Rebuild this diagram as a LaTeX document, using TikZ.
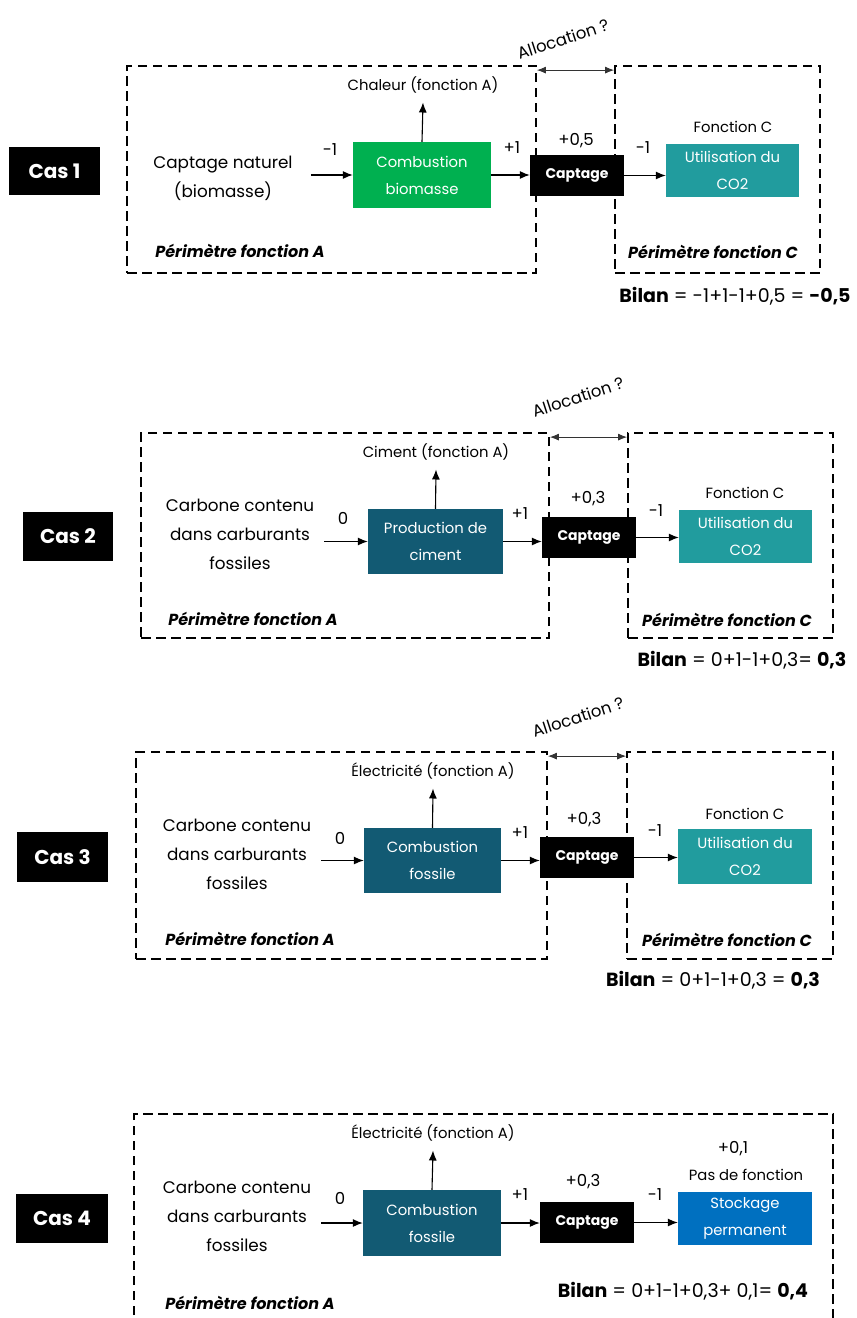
\documentclass[tikz,border=0pt]{standalone}
\usepackage{fontspec}
\setmainfont{Poppins}
\usetikzlibrary{arrows.meta}
\definecolor{cgreen}{HTML}{00B050}
\definecolor{cdark}{HTML}{125A73}
\definecolor{cteal}{HTML}{219C9E}
\definecolor{cblue}{HTML}{0070C0}
\newcommand{\fcas}{\fontsize{20}{24}\selectfont\bfseries}
\newcommand{\fmain}{\fontsize{16.8}{29}\selectfont}
\newcommand{\fbil}{\fontsize{19}{22}\selectfont}
\newcommand{\fsm}{\fontsize{14.8}{18}\selectfont}
\newcommand{\fnum}{\fontsize{16.5}{18}\selectfont}
\newcommand{\fbx}{\fontsize{14.8}{27}\selectfont}
\newcommand{\fcap}{\fontsize{14}{17}\selectfont\bfseries}
\newcommand{\fper}{\fontsize{16}{20}\selectfont\bfseries\itshape}
\begin{document}
\begin{tikzpicture}[x=1pt,y=-1pt,
  casbox/.style={fill=black,text=white,font=\fcas,inner sep=0,minimum width=91,minimum height=48},
  procbox/.style={text=white,align=center,inner sep=0,font=\fbx},
  capbox/.style={fill=black,text=white,font=\fcap,inner sep=0,minimum width=94,minimum height=41},
  perim/.style={draw,line width=1.8pt,dash pattern=on 9.5pt off 5.5pt,inner sep=0},
  flow/.style={-{Latex[length=10pt,width=8pt]},line width=1.1pt},
  alloc/.style={{Latex[length=9pt,width=7pt]}-{Latex[length=9pt,width=7pt]},line width=0.9pt,draw=black!80},
  lbl/.style={font=\fsm,inner sep=1pt},
  num/.style={font=\fnum,inner sep=1pt},
  txt/.style={font=\fmain,align=center,inner sep=0},
  biltxt/.style={font=\fbil,inner sep=0},
  pertxt/.style={font=\fper,inner sep=0},
  altxt/.style={font=\fnum,rotate=18,inner sep=0}
]
\useasboundingbox[fill=white] (0,0) rectangle (857,1318);

% ---------------- Cas 1 ----------------
\node[casbox] (cas1) at (54.5,171) {Cas 1};
\node[perim,minimum width=409,minimum height=207] (pA1) at (331.5,169.5) {};
\node[perim,minimum width=205,minimum height=207] (pC1) at (717.5,169.5) {};
\draw[alloc] ([yshift=-5pt]pA1.north east) -- ([yshift=-5pt]pC1.north west);
\node[altxt] (al1) at (563,39) {Allocation ?};
\node[lbl] (chal1) at (423,85) {Chaleur (fonction A)};
\node[txt,inner xsep=18pt] (nat1) at (223,178) {Captage naturel\\(biomasse)};
\node[procbox,fill=cgreen,minimum width=138,minimum height=66] (comb1) at (422,175) {Combustion\\biomasse};
\node[capbox] (cap1) at (577,175.5) {Captage};
\node[procbox,fill=cteal,minimum width=133,minimum height=53] (util1) at (732.5,170.5) {Utilisation du\\CO2};
\node[num] (v11) at (330,150) {-1};
\node[num] (v12) at (512,148) {+1};
\node[num] (v13) at (576,141) {+0,5};
\node[num] (v14) at (643,148) {-1};
\node[lbl] (fc1) at (733,127) {Fonction C};
\node[pertxt] (perA1) at (240,251) {Périmètre fonction A};
\node[pertxt] (perC1) at (713,252) {Périmètre fonction C};
\node[biltxt] (bil1) at (735,296) {\textbf{Bilan} = -1+1-1+0,5 = \textbf{-0,5}};
\draw[flow] (comb1.north) -- ([yshift=-8pt]chal1.south);
\draw[flow] (nat1.east |- comb1.west) -- (comb1.west);
\draw[flow] (comb1.east) -- (comb1.east -| cap1.west);
\draw[flow] (cap1.east) -- (cap1.east -| util1.west);

% ---------------- Cas 2 ----------------
\node[casbox,minimum width=90,minimum height=49] (cas2) at (68,536.5) {Cas 2};
\node[perim,minimum width=408,minimum height=205] (pA2) at (345,535.5) {};
\node[perim,minimum width=205,minimum height=205] (pC2) at (730.5,535.5) {};
\draw[alloc] ([yshift=-5pt]pA2.north east) -- ([yshift=-5pt]pC2.north west);
\node[altxt] (al2) at (578,397) {Allocation ?};
\node[lbl] (cim2) at (436,452) {Ciment (fonction A)};
\node[txt,inner xsep=10pt] (nat2) at (240,534) {Carbone contenu\\dans carburants\\fossiles};
\node[procbox,fill=cdark,minimum width=135,minimum height=65] (prod2) at (435.5,541.5) {Production de\\ciment};
\node[capbox] (cap2) at (589,537.5) {Captage};
\node[procbox,fill=cteal,minimum width=133,minimum height=53] (util2) at (745.5,536.5) {Utilisation du\\CO2};
\node[num] (v21) at (343,518) {0};
\node[num] (v22) at (520,514) {+1};
\node[num] (v23) at (588,499) {+0,3};
\node[num] (v24) at (656,511) {-1};
\node[lbl] (fc2) at (745,493) {Fonction C};
\node[pertxt] (perA2) at (253,619) {Périmètre fonction A};
\node[pertxt] (perC2) at (727,620) {Périmètre fonction C};
\node[biltxt] (bil2) at (742,660) {\textbf{Bilan} = 0+1-1+0,3= \textbf{0,3}};
\draw[flow] (prod2.north) -- ([yshift=-8pt]cim2.south);
\draw[flow] (nat2.east |- prod2.west) -- (prod2.west);
\draw[flow] (prod2.east) -- (prod2.east -| cap2.west);
\draw[flow] (cap2.east) -- (cap2.east -| util2.west);

% ---------------- Cas 3 ----------------
\node[casbox,minimum height=50] (cas3) at (62.5,857) {Cas 3};
\node[perim,minimum width=411,minimum height=207] (pA3) at (341.5,855.5) {};
\node[perim,minimum width=206,minimum height=207] (pC3) at (730,855.5) {};
\draw[alloc] ([yshift=-5pt]pA3.north east) -- ([yshift=-5pt]pC3.north west);
\node[altxt] (al3) at (578,717) {Allocation ?};
\node[lbl] (el3) at (433,771) {Électricité (fonction A)};
\node[txt,inner xsep=10pt] (nat3) at (237,854) {Carbone contenu\\dans carburants\\fossiles};
\node[procbox,fill=cdark,minimum width=137,minimum height=65] (comb3) at (432.5,860.5) {Combustion\\fossile};
\node[capbox] (cap3) at (587,857.5) {Captage};
\node[procbox,fill=cteal,minimum width=134,minimum height=55] (util3) at (745,856.5) {Utilisation du\\CO2};
\node[num] (v31) at (340,838) {0};
\node[num] (v32) at (520,833) {+1};
\node[num] (v33) at (584,820) {+0,3};
\node[num] (v34) at (655,831) {-1};
\node[lbl] (fc3) at (745,814) {Fonction C};
\node[pertxt] (perA3) at (250,939) {Périmètre fonction A};
\node[pertxt] (perC3) at (727,940) {Périmètre fonction C};
\node[biltxt] (bil3) at (713,980) {\textbf{Bilan} = 0+1-1+0,3 = \textbf{0,3}};
\draw[flow] (comb3.north) -- ([yshift=-8pt]el3.south);
\draw[flow] (nat3.east |- comb3.west) -- (comb3.west);
\draw[flow] (comb3.east) -- (comb3.east -| cap3.west);
\draw[flow] (cap3.east) -- (cap3.east -| util3.west);

% ---------------- Cas 4 ----------------
\node[casbox,minimum width=92,minimum height=49] (cas4) at (62,1218.5) {Cas 4};
\draw[line width=1.8pt,dash pattern=on 9.5pt off 5.5pt] (134,1330) -- (134,1114) -- (833,1114) -- (833,1330);
\node[lbl] (el4) at (433,1133) {Électricité (fonction A)};
\node[txt,inner xsep=10pt] (nat4) at (237,1216) {Carbone contenu\\dans carburants\\fossiles};
\node[procbox,fill=cdark,minimum width=138,minimum height=66] (comb4) at (432,1223) {Combustion\\fossile};
\node[capbox] (cap4) at (587,1222.5) {Captage};
\node[procbox,fill=cblue,minimum width=134,minimum height=53] (stock4) at (745,1218.5) {Stockage\\permanent};
\node[num] (v41) at (340,1198) {0};
\node[num] (v42) at (520,1195) {+1};
\node[num] (v43) at (583,1182) {+0,3};
\node[num] (v44) at (655,1195) {-1};
\node[num] (v45) at (733,1149) {+0,1};
\node[lbl] (pdf4) at (746,1175) {Pas de fonction};
\node[biltxt] (bil4) at (683,1291) {\textbf{Bilan} = 0+1-1+0,3+ 0,1= \textbf{0,4}};
\node[pertxt] (perA4) at (250,1303) {Périmètre fonction A};
\draw[flow] (comb4.north) -- ([yshift=-8pt]el4.south);
\draw[flow] (nat4.east |- comb4.west) -- (comb4.west);
\draw[flow] (comb4.east) -- (comb4.east -| cap4.west);
\draw[flow] (cap4.east) -- (cap4.east -| stock4.west);
\end{tikzpicture}
\end{document}
